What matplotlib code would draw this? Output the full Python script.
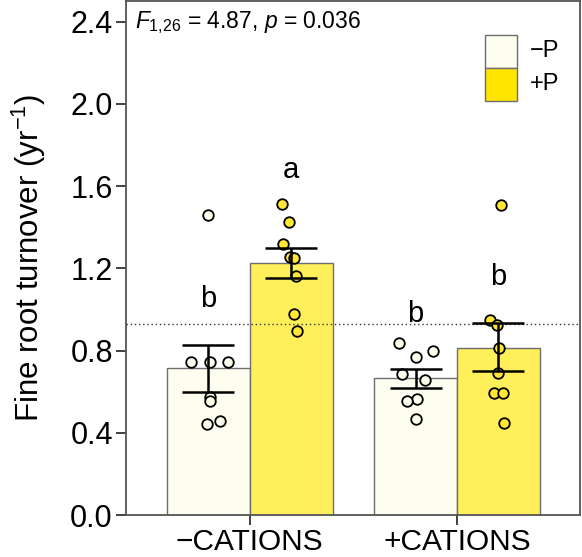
import matplotlib
matplotlib.use("Agg")
import matplotlib.pyplot as plt
from matplotlib.patches import Rectangle
import numpy as np

plt.rcParams['font.family'] = ['Liberation Sans', 'DejaVu Sans']
plt.rcParams['mathtext.fontset'] = 'custom'
plt.rcParams['mathtext.rm'] = 'Liberation Sans'
plt.rcParams['mathtext.it'] = 'Liberation Sans:italic'
plt.rcParams['mathtext.default'] = 'it'
plt.rcParams['axes.unicode_minus'] = True

# ---------------- data ----------------
groups = ["\u2212CATIONS", "+CATIONS"]
treatments = ["\u2212P", "+P"]
means_minusP = [0.714, 0.666]
means_plusP = [1.225, 0.813]
err_lo_minusP = [0.596, 0.619]
err_hi_minusP = [0.828, 0.711]
err_lo_plusP = [1.152, 0.700]
err_hi_plusP = [1.300, 0.934]
letters_minusP = ["b", "b"]
letters_plusP = ["a", "b"]
letter_y_minusP = [1.05, 0.98]
letter_y_plusP = [1.68, 1.16]

# individual observations (value, horizontal jitter in x-data units)
pts_cm_mp = [1.459, 0.743, 0.743, 0.743, 0.574, 0.553, 0.456, 0.441]
jit_cm_mp = [0.00, -0.082, 0.01, 0.097, 0.01, 0.01, 0.058, -0.005]
pts_cm_pp = [1.511, 1.427, 1.320, 1.256, 1.252, 1.164, 0.979, 0.897]
jit_cm_pp = [-0.043, -0.011, -0.038, -0.006, 0.013, 0.023, 0.013, 0.026]
pts_cp_mp = [0.836, 0.797, 0.768, 0.684, 0.655, 0.562, 0.553, 0.465]
jit_cp_mp = [-0.08, 0.082, 0.0, -0.065, 0.045, 0.005, -0.04, 0.0]
pts_cp_pp = [1.510, 0.949, 0.926, 0.813, 0.692, 0.595, 0.595, 0.449]
jit_cp_pp = [0.01, -0.04, -0.008, 0.004, 0.0, -0.02, 0.02, 0.026]
ref_line = 0.93
stat_text = r"$F_{\mathit{1{,}26}}$ = 4.87, $p$ = 0.036"

# ---------------- style ----------------
col_mp = "#FEFEF0"
col_pp = "#FFEF5A"
col_pp_leg = "#FFE500"
col_pt_mp = "#FEFEEC"
col_pt_pp = "#FFE733"
edge_bar = "#6E6E6E"

fig = plt.figure(figsize=(5.82, 5.57), dpi=100)
ax = fig.add_axes([0.2165, 0.0754, 0.78, 0.9226])

x = np.arange(1, len(groups) + 1)
w = 0.4

ax.bar(x - w / 2, means_minusP, width=w, color=col_mp, edgecolor=edge_bar, linewidth=1.0, zorder=1)
ax.bar(x + w / 2, means_plusP, width=w, color=col_pp, edgecolor=edge_bar, linewidth=1.0, zorder=1)

ax.axhline(ref_line, color="#333333", linestyle=(0, (1, 2)), linewidth=1.0, zorder=2)

pts = [(x[0] - w / 2, pts_cm_mp, jit_cm_mp, col_pt_mp),
       (x[0] + w / 2, pts_cm_pp, jit_cm_pp, col_pt_pp),
       (x[1] - w / 2, pts_cp_mp, jit_cp_mp, col_pt_mp),
       (x[1] + w / 2, pts_cp_pp, jit_cp_pp, col_pt_pp)]
for cx, vals, jit, c in pts:
    xs = cx + np.array(jit)
    ax.plot(xs, vals, 'o', ms=7.6, mfc=c, mec="black", mew=1.3, zorder=3, linestyle='none')

for cx, lo, hi, m in [(x - w / 2, err_lo_minusP, err_hi_minusP, means_minusP),
                      (x + w / 2, err_lo_plusP, err_hi_plusP, means_plusP)]:
    lo = np.array(lo); hi = np.array(hi); m = np.array(m)
    ax.errorbar(cx, m, yerr=[m - lo, hi - m], fmt='none', ecolor='black',
                elinewidth=1.8, capsize=18.5, capthick=1.8, zorder=4)

for i in range(len(groups)):
    ax.text(x[i] - w / 2, letter_y_minusP[i], letters_minusP[i], ha='center', va='center', fontsize=21)
    ax.text(x[i] + w / 2, letter_y_plusP[i], letters_plusP[i], ha='center', va='center', fontsize=21)

ax.set_xlim(0.403, 2.593)
ax.set_ylim(0, 2.5)
ax.set_yticks([0.0, 0.4, 0.8, 1.2, 1.6, 2.0, 2.4])
ax.set_yticklabels(["0.0", "0.4", "0.8", "1.2", "1.6", "2.0", "2.4"])
ax.set_xticks(x)
ax.set_xticklabels(groups)
ax.tick_params(axis='both', labelsize=22, direction='out', length=7.5, width=1.3, color='#333333')
ax.tick_params(axis='x', labelsize=21.5)
ax.tick_params(axis='y', pad=2)
ax.tick_params(axis='x', pad=2)
for s in ax.spines.values():
    s.set_color('#555555')
    s.set_linewidth(1.3)

ax.set_ylabel("Fine root turnover (yr$^{\\mathrm{-1}}$)", fontsize=22.5, labelpad=16)

ax.text(0.02, 0.985, stat_text, transform=ax.transAxes, ha='left', va='top', fontsize=16.5)

# legend (manual swatches)
lx, lw_, lh = 0.791, 0.071, 0.064
ly_top = 0.934
for i, (lab, c) in enumerate(zip(treatments, [col_mp, col_pp_leg])):
    y0 = ly_top - (i + 1) * lh
    ax.add_patch(Rectangle((lx, y0), lw_, lh, transform=ax.transAxes, facecolor=c,
                           edgecolor=edge_bar, linewidth=1.0, zorder=5))
    ax.text(lx + lw_ + 0.028, y0 + lh / 2, lab, transform=ax.transAxes, ha='left', va='center', fontsize=17)

fig.savefig("out.png", dpi=100)
